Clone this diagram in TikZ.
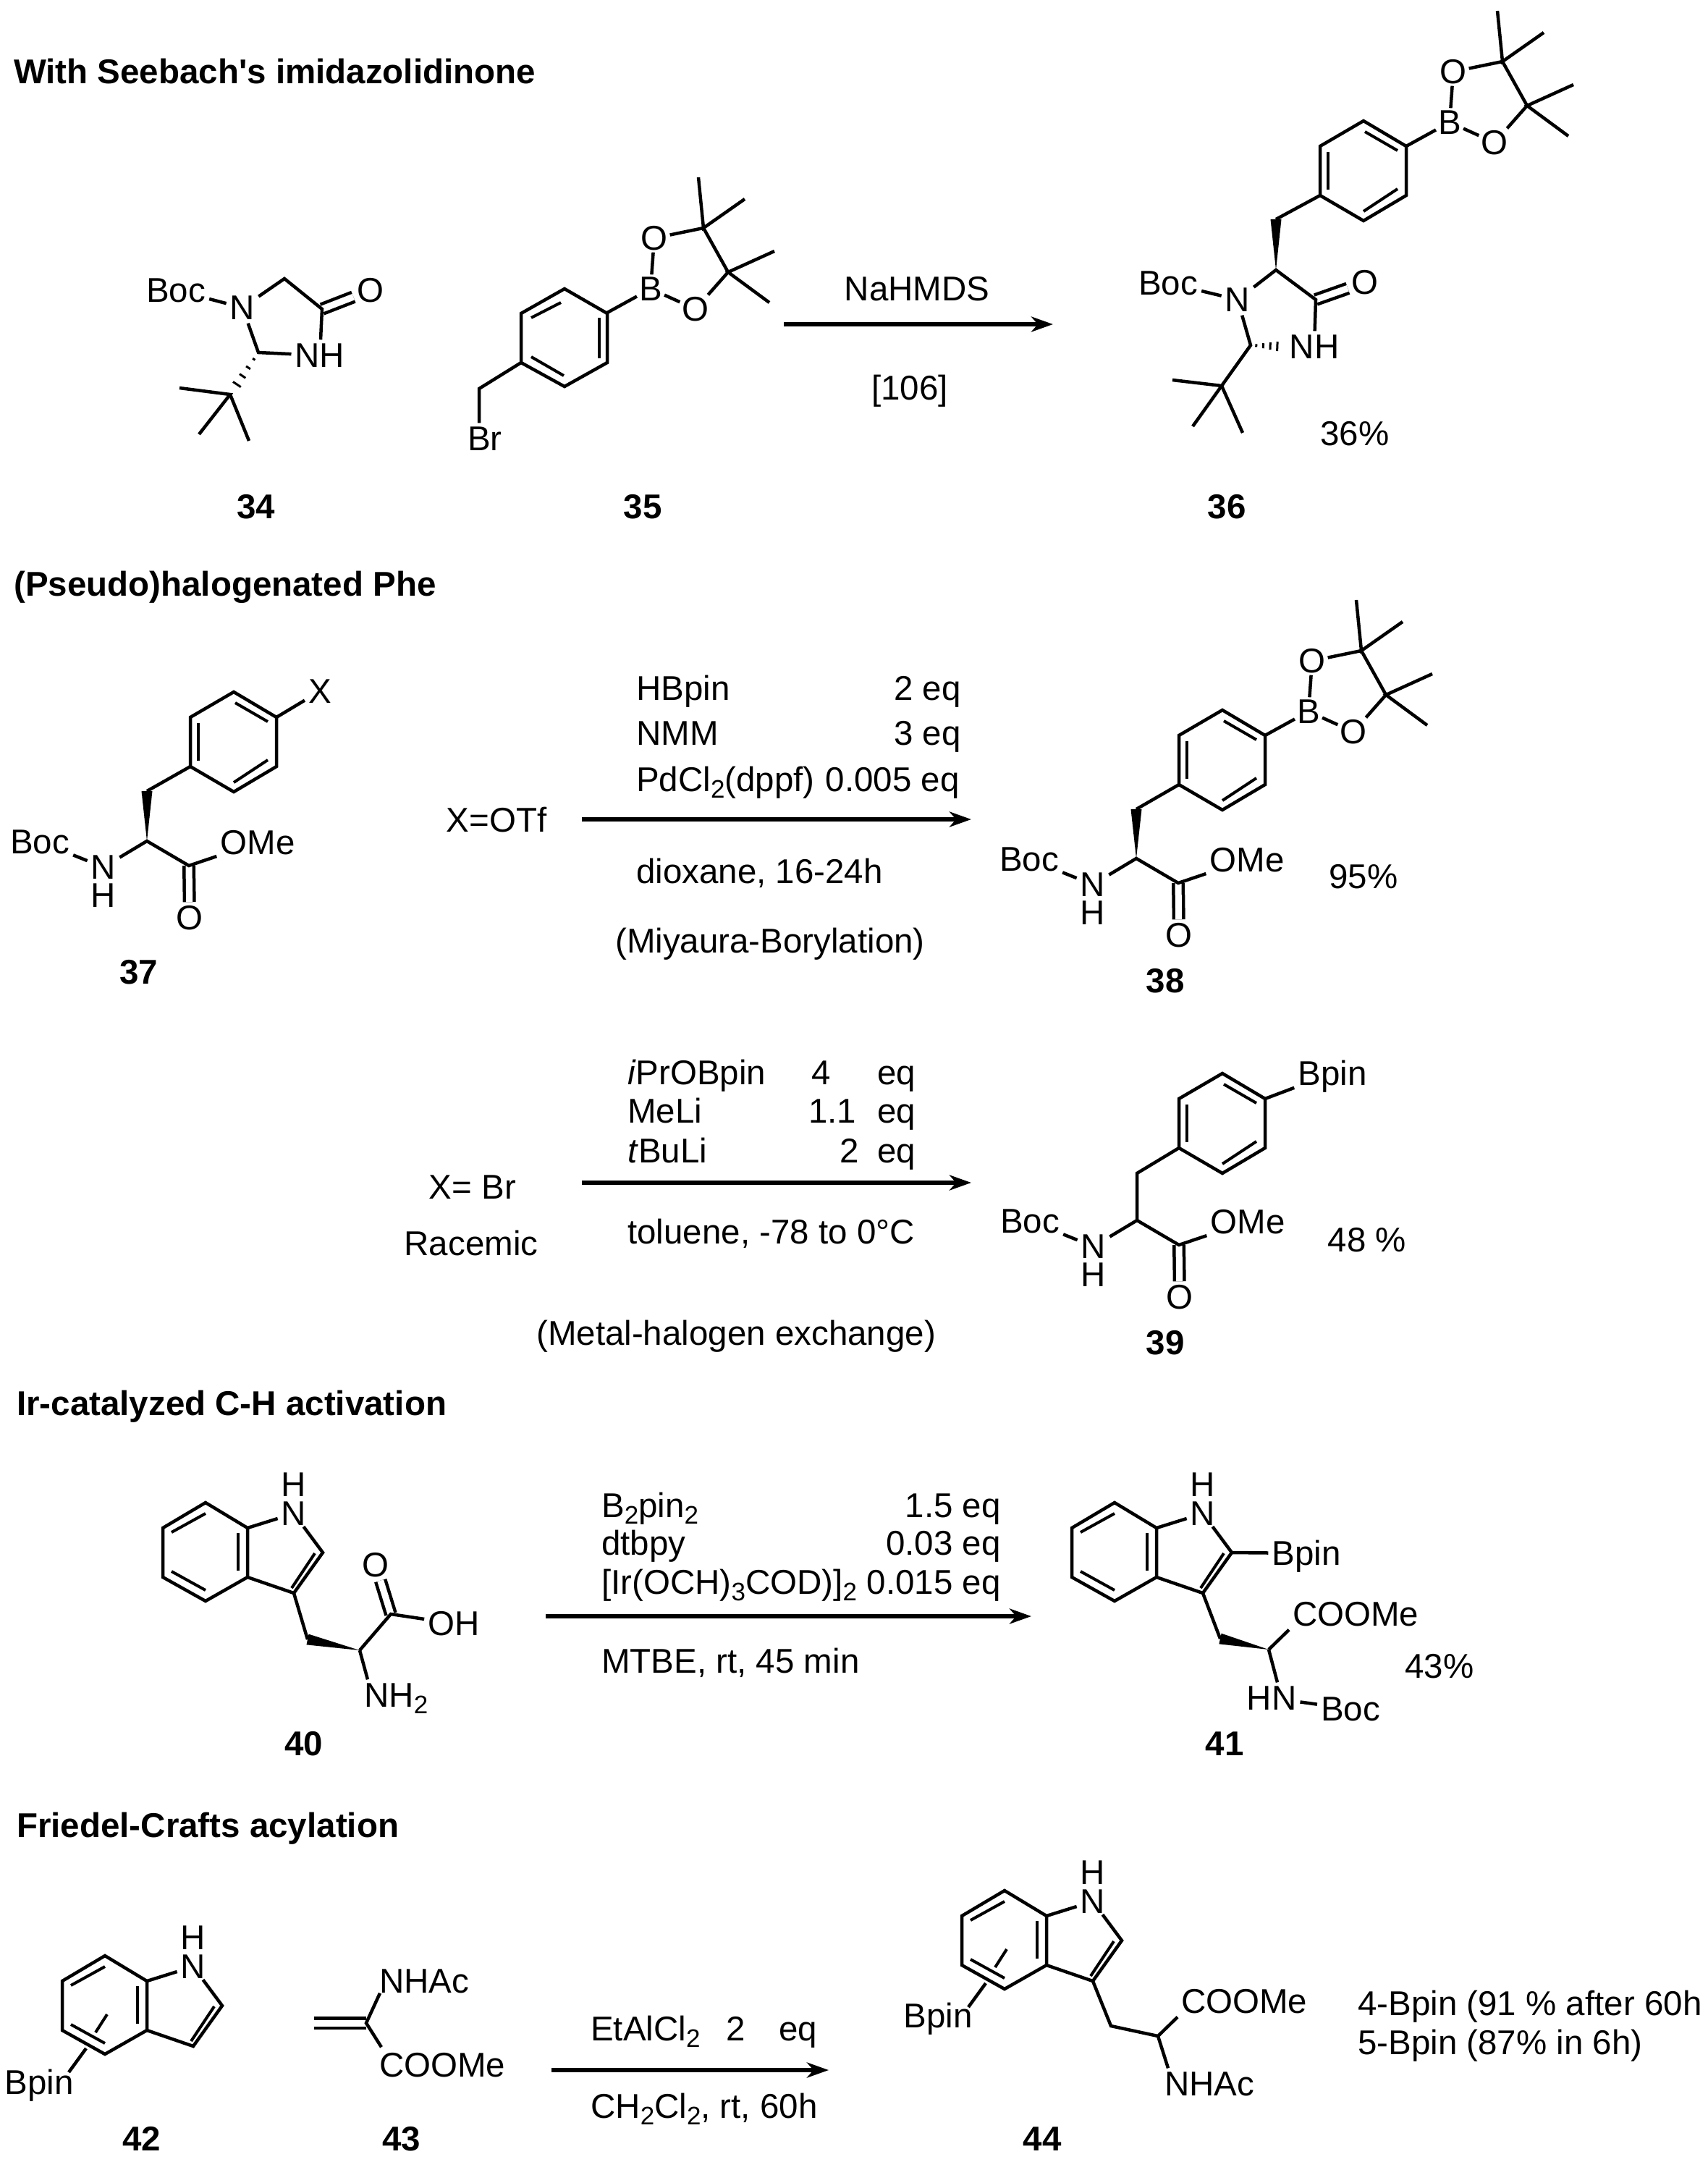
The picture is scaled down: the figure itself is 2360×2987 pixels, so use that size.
\documentclass[tikz,border=0pt]{standalone}
\usepackage{fontspec}
\setmainfont{Liberation Sans}
\usetikzlibrary{arrows.meta,calc}
\newcommand{\chemfont}{\fontsize{47.5}{50}\selectfont}
\newcommand{\subs}[1]{\raisebox{-9pt}{\fontsize{35}{36}\selectfont #1}}
\newcommand{\boldwedge}[2]{\fill ($(#2)!7.5pt!90:(#1)$) -- (#1) -- ($(#2)!7.5pt!-90:(#1)$) -- cycle;}
\newcommand{\hashwedge}[2]{\foreach \hpos/\hw in {.16/2,.36/3.5,.56/5,.76/6.5}{\draw[line width=3pt] ($(#1)!\hpos!(#2)!\hw pt!90:(#2)$) -- ($(#1)!\hpos!(#2)!\hw pt!-90:(#2)$);}}
\tikzset{
  bond/.style={line width=4.5pt,line join=miter,line cap=butt},
  dbond/.style={bond,double,double distance=9pt},
  inner/.style={line width=4pt},
  rxn/.style={line width=5.5pt,-{Stealth[length=30pt,width=21pt,inset=9pt]}},
  atom/.style={font=\chemfont,inner sep=5pt,text height=33pt,text depth=0pt},
  natom/.style={atom,inner ysep=1.5pt},
  hatom/.style={atom,inner ysep=1pt},
  txt/.style={font=\chemfont,inner sep=0pt,text height=33pt,text depth=0pt,anchor=west},
  txtr/.style={txt,anchor=east},
  num/.style={font=\chemfont\bfseries,inner sep=0pt,text height=33pt,text depth=0pt},
  title/.style={num,anchor=west},
  ringa/.pic={
    \coordinate (-t) at (0,-69); \coordinate (-ur) at (59,-34); \coordinate (-lr) at (59,34);
    \coordinate (-b) at (0,69); \coordinate (-ll) at (-60,34); \coordinate (-ul) at (-60,-34);
    \draw[bond] (-t) -- (-ur) -- (-lr) -- (-b) -- (-ll) -- (-ul) -- cycle;
    \draw[inner] (2,-54) -- (47,-28);
    \draw[inner] (-49,-26) -- (-49,26);
    \draw[inner] (0,56) -- (47,25);
  },
  ringb/.pic={
    \coordinate (-t) at (0,-67); \coordinate (-ur) at (59,-33); \coordinate (-lr) at (59,35);
    \coordinate (-b) at (0,68); \coordinate (-ll) at (-60,35); \coordinate (-ul) at (-60,-33);
    \draw[bond] (-t) -- (-ur) -- (-lr) -- (-b) -- (-ll) -- (-ul) -- cycle;
    \draw[inner] (-46,-27) -- (-5,-48);
    \draw[inner] (48,-27) -- (48,29);
    \draw[inner] (-46,27) -- (-1,53);
  },
  pinb/.pic={
    \coordinate (-a) at (59,-34);
    \node[atom,inner sep=3pt] (-b) at (119,-67) {B};
    \node[atom,inner sep=3pt] (-o1) at (124,-137) {O};
    \node[atom,inner sep=3pt] (-o2) at (181,-39) {O};
    \coordinate (-c1) at (192,-151); \coordinate (-c2) at (226,-90);
    \coordinate (-m1) at (185,-221); \coordinate (-m2) at (249,-191);
    \coordinate (-m3) at (290,-119); \coordinate (-m4) at (283,-48);
    \draw[bond] (-a) -- (-b);
    \draw[bond] (-b) -- (-o1);
    \draw[bond] (-b) -- (-o2);
    \draw[bond] (-o1) -- (-c1) -- (-c2) -- (-o2);
    \draw[bond] (-m1) -- (-c1) -- (-m2);
    \draw[bond] (-m3) -- (-c2) -- (-m4);
  },
  bocester/.pic={
    \coordinate (-ch) at (0,0);
    \coordinate (-c) at (58,34);
    \node[atom] (-boc) at (-148,1) {Boc};
    \node[natom] (-n) at (-60,36) {N};
    \node[hatom] (-h) at (-60,75) {H};
    \node[atom] (-ome) at (153,2) {OMe};
    \node[atom] (-o) at (59,106) {O};
    \draw[dbond] (-c) -- (-o);
    \draw[bond] (-boc) -- (-n);
    \draw[bond] (-n) -- (-ch) -- (-c) -- (-ome);
  },
  indole/.pic={
    \coordinate (-t) at (0,-68); \coordinate (-ur) at (58,-33); \coordinate (-lr) at (58,35);
    \coordinate (-b) at (0,68); \coordinate (-ll) at (-59,35); \coordinate (-ul) at (-59,-33);
    \coordinate (-c2) at (162,1); \coordinate (-c3) at (122,57);
    \node[natom] (-n) at (122,-53) {N};
    \node[hatom] (-h) at (122,-93) {H};
    \draw[bond] (-t) -- (-ur) -- (-lr) -- (-b) -- (-ll) -- (-ul) -- cycle;
    \draw[bond] (-ur) -- (-n) -- (-c2) -- (-c3) -- (-lr);
    \draw[inner] (-47,-27) -- (0,-53);
    \draw[inner] (45,-26) -- (45,26);
    \draw[inner] (-47,27) -- (0,53);
    \draw[inner] (151,2) -- (119,50);
  },
  floatbond/.pic={
    \coordinate (-fa) at (3,13); \coordinate (-fb) at (-13,38);
    \coordinate (-fc) at (-26,60); \coordinate (-fd) at (-50,93);
    \draw[inner] (-fa) -- (-fb);
    \draw[bond] (-fc) -- (-fd);
  },
}
\begin{document}
\begin{tikzpicture}[x=1pt,y=-1pt]
  \useasboundingbox (0,0) rectangle (2360,2987);

  \node[title] (head1) at (19,99) {With Seebach\textquotesingle s imidazolidinone};
  \node[title] (head2) at (19,807) {(Pseudo)halogenated Phe};
  \node[title] (head3) at (23,1939) {Ir-catalyzed C-H activation};
  \node[title] (head4) at (23,2522) {Friedel-Crafts acylation};

  \node[atom] (m34boc) at (243,401) {Boc};
  \node[atom] (m34n) at (335,425) {N};
  \node[atom] (m34o) at (512,401) {O};
  \node[atom] (m34nh) at (442,491) {NH};
  \coordinate (m34ch2) at (393,385);
  \coordinate (m34co) at (445,427);
  \coordinate (m34c2) at (357,487);
  \coordinate (m34tb) at (318,545);
  \coordinate (m34me1) at (248,536);
  \coordinate (m34me2) at (275,600);
  \coordinate (m34me3) at (344,609);
  \draw[dbond] (m34co) -- (m34o);
  \draw[bond] (m34boc) -- (m34n);
  \draw[bond] (m34n) -- (m34ch2) -- (m34co) -- (m34nh);
  \draw[bond] (m34n) -- (m34c2) -- (m34nh);
  \draw[bond] (m34me1) -- (m34tb) -- (m34me2);
  \draw[bond] (m34tb) -- (m34me3);
  \hashwedge{m34c2}{m34tb}
  \node[num] (n34) at (354,700) {34};

  \pic (m35r) at (780,466) {ringb};
  \pic (m35p) at (780,466) {pinb};
  \coordinate (m35ch2) at (662,537);
  \node[atom] (m35br) at (670,606) {Br};
  \draw[bond] (m35r-ll) -- (m35ch2) -- (m35ch2 |- m35br.north);
  \node[num] (n35) at (888,700) {35};

  \coordinate (r1a) at (1083,448);
  \coordinate (r1b) at (1455,448);
  \draw[rxn] (r1a) -- (r1b);
  \node[atom] (r1top) at (1267,399) {NaHMDS};
  \node[atom] (r1ref) at (1257,536) {[106]};

  \pic (m36r) at (1884,236) {ringa};
  \pic (m36p) at (1884,236) {pinb};
  \node[atom] (m36boc) at (1614,391) {Boc};
  \node[atom] (m36n) at (1710,414) {N};
  \node[atom] (m36o) at (1886,390) {O};
  \node[atom] (m36nh) at (1816,479) {NH};
  \coordinate (m36ch2) at (1763,303);
  \coordinate (m36c5) at (1763,373);
  \coordinate (m36co) at (1818,414);
  \coordinate (m36c2) at (1728,477);
  \coordinate (m36tb) at (1688,533);
  \coordinate (m36me1) at (1620,525);
  \coordinate (m36me2) at (1648,589);
  \coordinate (m36me3) at (1717,598);
  \draw[dbond] (m36co) -- (m36o);
  \draw[bond] (m36boc) -- (m36n);
  \draw[bond] (m36n) -- (m36c5) -- (m36co) -- (m36nh);
  \draw[bond] (m36n) -- (m36c2) -- (m36tb);
  \draw[bond] (m36me1) -- (m36tb) -- (m36me2);
  \draw[bond] (m36tb) -- (m36me3);
  \draw[bond] (m36ch2) -- (m36r-ll);
  \boldwedge{m36c5}{m36ch2}
  \hashwedge{m36c2}{m36nh.west}
  \node[atom] (y36) at (1872,599) {36\%};
  \node[num] (n36) at (1695,700) {36};

  \pic (m37) at (203,1162) {bocester};
  \pic (m37r) at (323,1025) {ringa};
  \coordinate (m37ch2) at (203,1093);
  \node[atom] (m37x) at (442,955) {X};
  \draw[bond] (m37ch2) -- (m37r-ll);
  \draw[bond] (m37r-ur) -- (m37x);
  \boldwedge{m37-ch}{m37ch2}
  \node[num] (n37) at (192,1343) {37};

  \node[atom] (xotf) at (686,1133) {X=OTf};
  \coordinate (r2a) at (804,1132);
  \coordinate (r2b) at (1342,1132);
  \draw[rxn] (r2a) -- (r2b);
  \node[txt] (r2l1) at (879,951) {HBpin};
  \node[txt] (r2l2) at (879,1013) {NMM};
  \node[txt] (r2l3) at (879,1077) {PdCl\subs{2}(dppf)};
  \node[txtr] (r2e1) at (1328,951) {2 eq};
  \node[txtr] (r2e2) at (1328,1013) {3 eq};
  \node[txtr] (r2e3) at (1326,1077) {0.005 eq};
  \node[txt] (r2b1) at (879,1204) {dioxane, 16-24h};
  \node[txt] (r2b2) at (850,1300) {(Miyaura-Borylation)};

  \pic (m38) at (1570,1186) {bocester};
  \pic (m38r) at (1689,1050) {ringa};
  \pic (m38p) at (1689,1050) {pinb};
  \coordinate (m38ch2) at (1570,1118);
  \draw[bond] (m38ch2) -- (m38r-ll);
  \boldwedge{m38-ch}{m38ch2}
  \node[atom] (y38) at (1884,1211) {95\%};
  \node[num] (n38) at (1610,1355) {38};

  \node[atom] (xbr) at (653,1640) {X= Br};
  \node[atom] (rac) at (651,1718) {Racemic};
  \coordinate (r3a) at (804,1634);
  \coordinate (r3b) at (1342,1634);
  \draw[rxn] (r3a) -- (r3b);
  \node[txt] (r3l1) at (867,1482) {\textit{i}PrOBpin};
  \node[txt] (r3l2) at (867,1535) {MeLi};
  \node[txt] (r3l3) at (867,1590) {\textit{t}BuLi};
  \node[txt] (r3v1) at (1121,1482) {4};
  \node[txt] (r3v2) at (1117,1535) {1.1};
  \node[txt] (r3v3) at (1160,1590) {2};
  \node[txt] (r3e1) at (1212,1482) {eq};
  \node[txt] (r3e2) at (1212,1535) {eq};
  \node[txt] (r3e3) at (1212,1590) {eq};
  \node[txt] (r3b1) at (867,1702) {toluene, -78 to 0°C};
  \node[txt] (r3b2) at (741,1842) {(Metal-halogen exchange)};

  \pic (m39) at (1571,1686) {bocester};
  \pic (m39r) at (1689,1552) {ringa};
  \coordinate (m39ch2) at (1571,1621);
  \node[atom] (m39bpin) at (1841,1483) {Bpin};
  \draw[bond] (m39-ch) -- (m39ch2) -- (m39r-ll);
  \draw[bond] (m39r-ur) -- (m39bpin);
  \node[atom] (y39) at (1889,1713) {48 \%};
  \node[num] (n39) at (1610,1855) {39};

  \pic (m40) at (284,2144) {indole};
  \coordinate (m40ch2) at (425,2265);
  \coordinate (m40ch) at (497,2280);
  \coordinate (m40c) at (540,2230);
  \node[atom] (m40o) at (519,2162) {O};
  \node[atom] (m40oh) at (627,2243) {OH};
  \node[txt,inner sep=5pt] (m40nh) at (498,2342) {NH\subs{2}};
  \draw[dbond] (m40c) -- (m40o);
  \draw[bond] (m40-c3) -- (m40ch2);
  \draw[bond] (m40ch) -- (m40c) -- (m40oh);
  \draw[bond] (m40ch) -- ([xshift=10pt]m40nh.north west);
  \boldwedge{m40ch}{m40ch2}
  \node[num] (n40) at (420,2409) {40};

  \coordinate (r4a) at (754,2233);
  \coordinate (r4b) at (1425,2233);
  \draw[rxn] (r4a) -- (r4b);
  \node[txt] (r4l1) at (831,2080) {B\subs{2}pin\subs{2}};
  \node[txt] (r4l2) at (831,2132) {dtbpy};
  \node[txt] (r4l3) at (831,2186) {[Ir(OCH)\subs{3}COD)]\subs{2}};
  \node[txtr] (r4e1) at (1383,2080) {1.5 eq};
  \node[txtr] (r4e2) at (1383,2132) {0.03 eq};
  \node[txtr] (r4e3) at (1383,2186) {0.015 eq};
  \node[txt] (r4b1) at (831,2295) {MTBE, rt, 45 min};

  \pic (m41) at (1540,2144) {indole};
  \coordinate (m41ch2) at (1686,2264);
  \coordinate (m41ch) at (1753,2279);
  \node[atom] (m41bpin) at (1805,2146) {Bpin};
  \node[txt,inner sep=5pt] (m41co) at (1781,2230) {COOMe};
  \node[atom] (m41hn) at (1757,2346) {HN};
  \node[atom] (m41boc) at (1866,2361) {Boc};
  \draw[bond] (m41-c2) -- (m41bpin);
  \draw[bond] (m41-c3) -- (m41ch2);
  \draw[bond] (m41ch) -- (m41co.south west);
  \draw[bond] (m41ch) -- ([xshift=8pt]m41hn.north);
  \draw[bond] (m41hn) -- (m41boc);
  \boldwedge{m41ch}{m41ch2}
  \node[atom] (y41) at (1989,2302) {43\%};
  \node[num] (n41) at (1692,2409) {41};

  \pic (m42) at (145,2770) {indole};
  \pic (m42f) at (145,2770) {floatbond};
  \node[atom] (m42bpin) at (54,2877) {Bpin};
  \node[num] (n42) at (196,2955) {42};

  \coordinate (m43c) at (506,2795);
  \coordinate (m43ch2) at (434,2795);
  \node[txt,inner sep=5pt] (m43nh) at (519,2737) {NHAc};
  \node[txt,inner sep=5pt] (m43co) at (519,2853) {COOMe};
  \draw[dbond] (m43c) -- (m43ch2);
  \draw[bond] ([xshift=6pt,yshift=5pt]m43nh.south west) -- (m43c) -- ([xshift=8pt,yshift=3pt]m43co.north west);
  \node[num] (n43) at (555,2955) {43};

  \coordinate (r5a) at (762,2860);
  \coordinate (r5b) at (1145,2860);
  \draw[rxn] (r5a) -- (r5b);
  \node[txt] (r5t1) at (816,2803) {EtAlCl\subs{2}};
  \node[atom] (r5t2) at (1017,2803) {2};
  \node[txt] (r5t3) at (1076,2803) {eq};
  \node[txt] (r5b1) at (816,2910) {CH\subs{2}Cl\subs{2}, rt, 60h};

  \pic (m44) at (1388,2680) {indole};
  \pic (m44f) at (1388,2680) {floatbond};
  \coordinate (m44ch2) at (1535,2799);
  \coordinate (m44ch) at (1600,2813);
  \node[atom] (m44bpin) at (1296,2785) {Bpin};
  \node[txt,inner sep=5pt] (m44co) at (1627,2765) {COOMe};
  \node[txt,inner sep=5pt] (m44nh) at (1604,2879) {NHAc};
  \draw[bond] (m44-c3) -- (m44ch2) -- (m44ch) -- (m44co.south west);
  \draw[bond] (m44ch) -- ([xshift=10pt]m44nh.north west);
  \node[num] (n44) at (1440,2955) {44};
  \node[txt] (y44a) at (1876,2768) {4-Bpin (91 \% after 60h};
  \node[txt] (y44b) at (1876,2822) {5-Bpin (87\% in 6h)};
\end{tikzpicture}
\end{document}
